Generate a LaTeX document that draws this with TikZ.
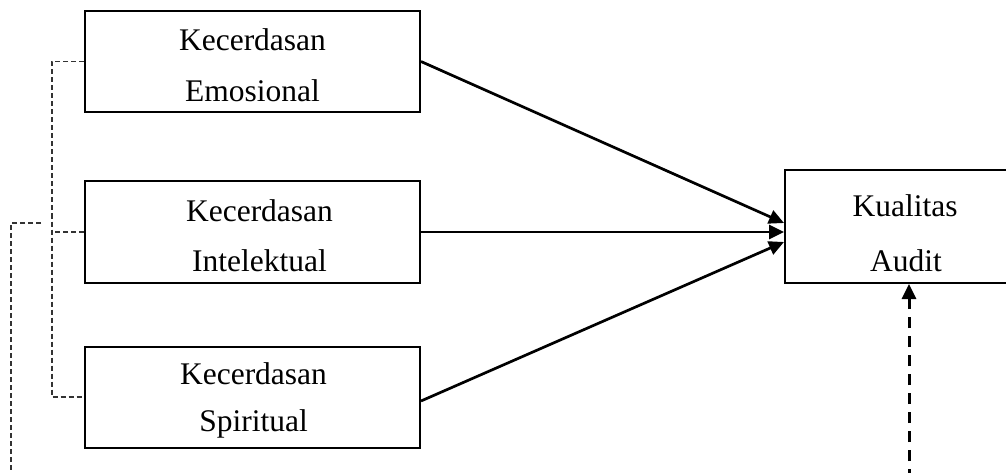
\documentclass[tikz,border=0pt]{standalone}
\usepackage{fontspec}
\setmainfont{Liberation Serif}
\usetikzlibrary{arrows.meta,calc}

\tikzset{
  varbox/.style={draw, line width=2pt, inner sep=0pt, minimum width=335pt, minimum height=101pt},
  outbox/.style={draw, line width=2pt, inner sep=0pt, minimum width=240pt, minimum height=113pt},
  lbl/.style={anchor=base, inner sep=0pt, font=\fontsize{31.5}{38}\selectfont},
  path/.style={line width=2.7pt, -{Triangle[length=15pt,width=14pt]}},
  thindash/.style={line width=1.2pt, black!80, dash pattern=on 5pt off 3pt},
  thickdash/.style={line width=3pt, dash pattern=on 11pt off 8pt, -{Triangle[length=15pt,width=14pt]}}
}

\begin{document}
\begin{tikzpicture}[x=1pt,y=-1pt]
\useasboundingbox (0,0) rectangle (1006,473);
\clip (0,0) rectangle (1006,473);

% independent variables
\node[varbox] (emo) at (252.5,61.5) {};
\node[lbl] at ($(emo.north)+(0,41)$) {Kecerdasan};
\node[lbl] at ($(emo.north)+(0,92)$) {Emosional};

\node[varbox] (int) at (252.5,232) {};
\node[lbl] at ($(int.north)+(7,41)$) {Kecerdasan};
\node[lbl] at ($(int.north)+(7,91)$) {Intelektual};

\node[varbox] (spi) at (252.5,397) {};
\node[lbl] at ($(spi.north)+(1,39)$) {Kecerdasan};
\node[lbl] at ($(spi.north)+(1,86)$) {Spiritual};

% dependent variable
\node[outbox] (kua) at (905,226.5) {};
\node[lbl] at ($(kua.north)+(0,47)$) {Kualitas};
\node[lbl] at ($(kua.north)+(1,102)$) {Audit};

% arrow end points on the dependent box
\coordinate (t1) at ($(kua.west)+(0,-3.5)$);
\coordinate (t2) at (kua.west |- int.east);
\coordinate (t3) at ($(kua.west)+(0,15.5)$);

\draw[path] (emo.east) -- (t1);
\draw[path] (int.east) -- (t2);
\draw[path] ($(spi.east)+(0,4)$) -- (t3);

% bracket grouping the three intelligences
\coordinate (lx) at (52,0);
\draw[thindash] (emo.west) -- (emo.west -| lx) -- (spi.west -| lx) -- (spi.west);
\draw[thindash] (int.west) -- (int.west -| lx);

% outer dashed line leading off the bottom
\coordinate (oe) at (41,223);
\coordinate (oc) at (11,223);
\coordinate (ob) at (11,480);
\draw[thindash] (oe) -- (oc) -- (ob);

% dashed arrow from below into the dependent box
\coordinate (bot) at (909,480);
\draw[thickdash] (bot) -- (bot |- kua.south);
\end{tikzpicture}
\end{document}
